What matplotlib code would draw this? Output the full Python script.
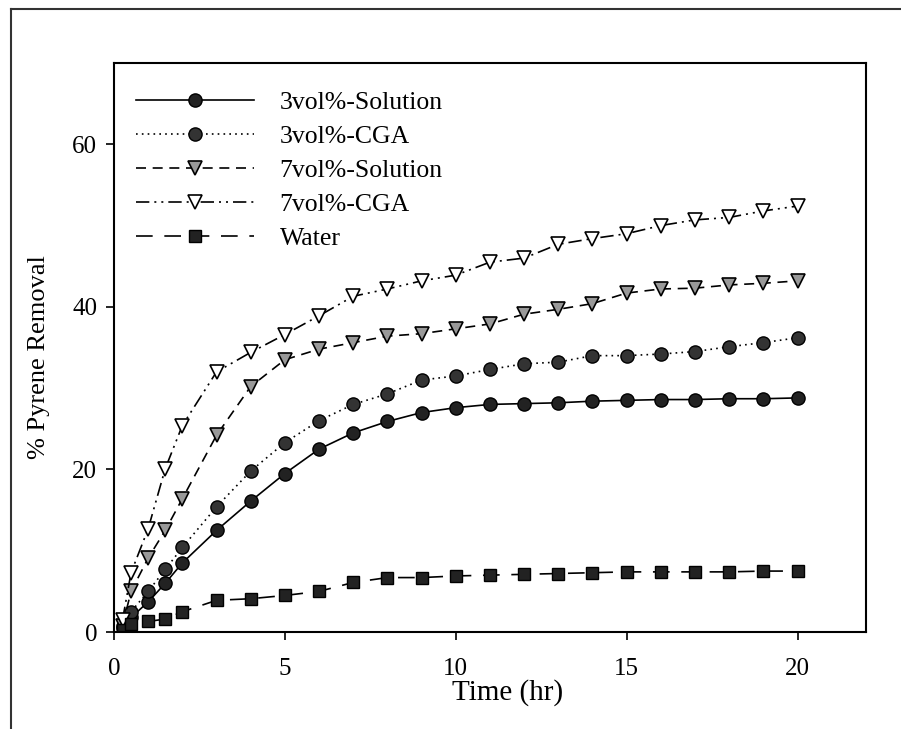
import matplotlib
matplotlib.use("Agg")
import matplotlib.pyplot as plt
from matplotlib.lines import Line2D

plt.rcParams['font.family'] = ['Liberation Serif', 'DejaVu Serif']

time_hr = [0.25, 0.5, 1, 1.5, 2, 3, 4, 5, 6, 7, 8, 9, 10, 11, 12, 13, 14, 15, 16, 17, 18, 19, 20]
sol3 = [0.5, 1.8, 3.7, 6.0, 8.5, 12.5, 16.1, 19.5, 22.5, 24.5, 25.9, 27.0, 27.6, 28.0, 28.1, 28.2, 28.4, 28.5, 28.6, 28.6, 28.7, 28.7, 28.8]
cga3 = [0.7, 2.5, 5.0, 7.7, 10.4, 15.4, 19.8, 23.3, 26.0, 28.0, 29.3, 31.0, 31.5, 32.3, 33.0, 33.2, 34.0, 34.0, 34.2, 34.5, 35.1, 35.6, 36.2]
sol7 = [0.8, 5.0, 9.1, 12.5, 16.4, 24.2, 30.2, 33.5, 34.8, 35.6, 36.4, 36.7, 37.3, 37.9, 39.1, 39.7, 40.4, 41.7, 42.2, 42.3, 42.7, 42.9, 43.2]
cga7 = [1.5, 7.3, 12.7, 20.1, 25.4, 32.0, 34.4, 36.6, 38.9, 41.3, 42.2, 43.2, 43.9, 45.5, 46.0, 47.7, 48.4, 49.0, 50.0, 50.7, 51.0, 51.8, 52.4]
water = [0.2, 1.0, 1.3, 1.6, 2.5, 3.9, 4.1, 4.5, 5.0, 6.1, 6.7, 6.7, 6.9, 7.0, 7.1, 7.2, 7.3, 7.4, 7.4, 7.4, 7.4, 7.5, 7.5]

labels = ['3vol%-Solution', '3vol%-CGA', '7vol%-Solution', '7vol%-CGA', 'Water']
x_ticks = [0, 5, 10, 15, 20]
y_ticks = [0, 20, 40, 60]

fig = plt.figure(figsize=(9.01, 7.29), dpi=100)
ax = fig.add_axes([0.1265, 0.133, 0.8345, 0.7806])

lw = 1.2
ax.plot(time_hr, sol3, color='black', lw=lw, ls='-', marker='o', ms=9.5,
        mfc='#222222', mec='black', label=labels[0])
ax.plot(time_hr, cga3, color='black', lw=lw, ls=(0, (1, 2.5)), marker='o', ms=9.5,
        mfc='#333333', mec='black', label=labels[1])
ax.plot(time_hr, sol7, color='black', lw=lw, ls=(0, (6, 4)), marker='v', ms=10,
        mfc='#999999', mec='black', mew=1.2, label=labels[2])
ax.plot(time_hr, cga7, color='black', lw=lw, ls=(0, (8, 3, 1.2, 3, 1.2, 3)), marker='v', ms=10,
        mfc='white', mec='black', mew=1.2, label=labels[3])
ax.plot(time_hr, water, color='black', lw=lw, ls=(0, (10, 7)), marker='s', ms=8,
        mfc='#222222', mec='black', label=labels[4])

ax.set_xlim(0, 22)
ax.set_ylim(0, 70)
ax.set_xticks(x_ticks)
ax.set_yticks(y_ticks)
ax.tick_params(direction='out', length=6, width=1.2, labelsize=18)
ax.tick_params(axis='x', pad=13)
ax.tick_params(axis='y', pad=6)
for s in ax.spines.values():
    s.set_linewidth(1.5)

ax.set_xlabel('Time (hr)', fontsize=21)
ax.set_ylabel('% Pyrene Removal', fontsize=19)
ax.xaxis.set_label_coords(0.524, -0.082)
ax.yaxis.set_label_coords(-0.085, 0.483)

leg = ax.legend(loc='upper left', bbox_to_anchor=(0.0153, 0.968), frameon=False, fontsize=18.5,
                handlelength=4.6, handletextpad=1.0, labelspacing=0.42, numpoints=1,
                borderaxespad=0)

fig.add_artist(Line2D([0.012, 0.012], [0.0, 0.987], transform=fig.transFigure, color='#333333', lw=1.5))
fig.add_artist(Line2D([0.012, 1.0], [0.987, 0.987], transform=fig.transFigure, color='#333333', lw=1.5))

fig.savefig('out.png', dpi=100)
